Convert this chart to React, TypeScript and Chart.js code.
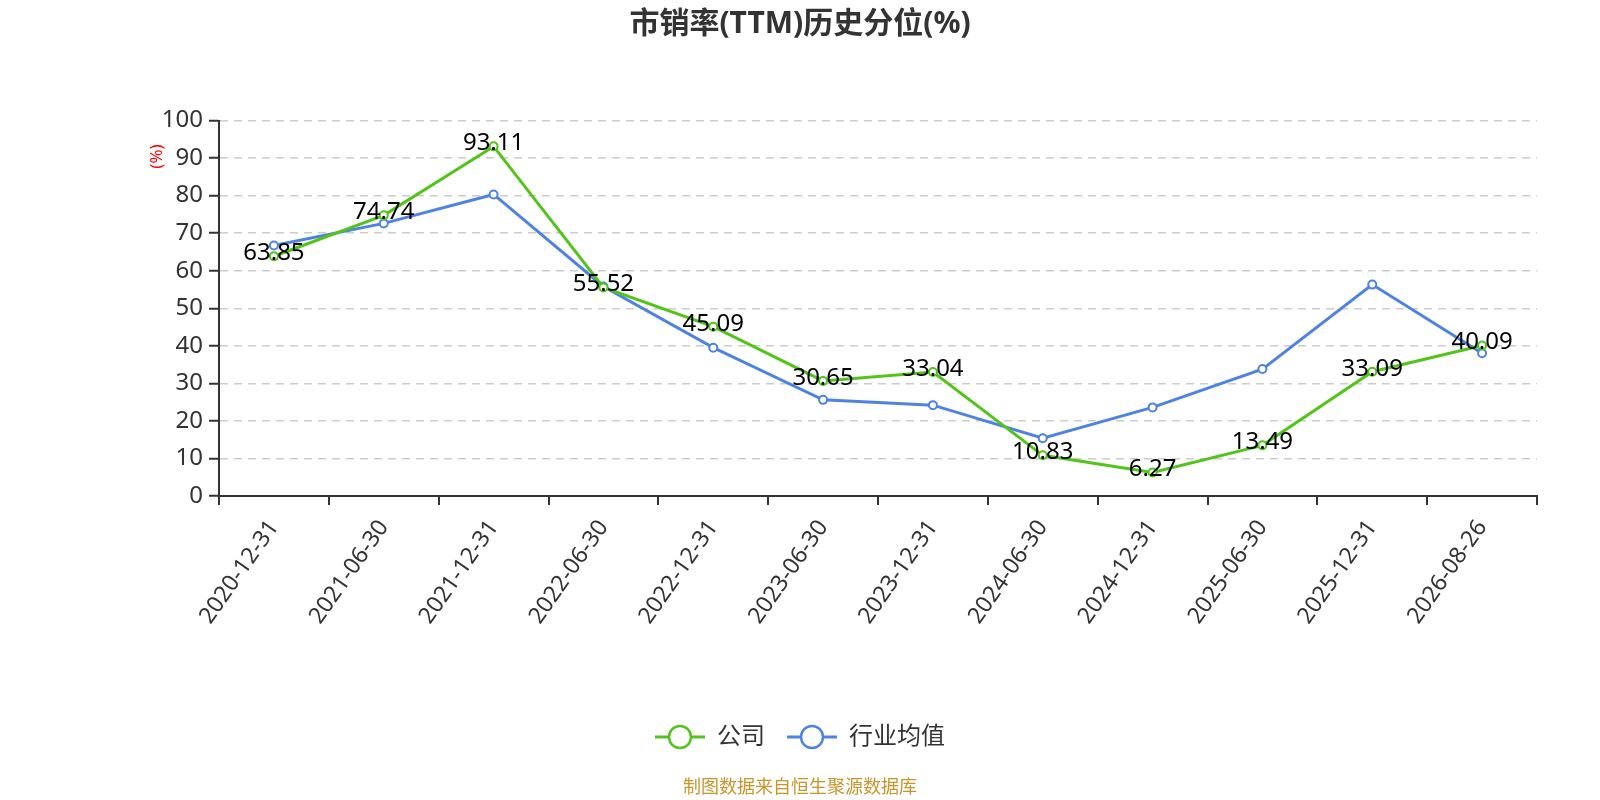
import { useEffect, useRef } from 'react';
import Chart from 'chart.js/auto';

const dates = [
  '2020-12-31', '2021-06-30', '2021-12-31', '2022-06-30', '2022-12-31', '2023-06-30',
  '2023-12-31', '2024-06-30', '2024-12-31', '2025-06-30', '2025-12-31', '2026-08-26',
];
const companyValues = [63.85, 74.74, 93.11, 55.52, 45.09, 30.65, 33.04, 10.83, 6.27, 13.49, 33.09, 40.09];
const industryValues = [66.7, 72.6, 80.3, 55.8, 39.5, 25.6, 24.2, 15.4, 23.6, 33.8, 56.3, 38.0];
const seriesNames = ['公司', '行业均值'];
const yMin = 0;
const yMax = 100;
const yStep = 10;

const GREEN = '#52c41a';
const BLUE = '#4e83e3';
const FONT = '"Noto Sans", "Noto Sans CJK SC", sans-serif';

function legendIcon(color: string) {
  const c = document.createElement('canvas');
  c.width = 50;
  c.height = 26;
  const g = c.getContext('2d')!;
  g.strokeStyle = color;
  g.lineWidth = 3;
  g.beginPath();
  g.moveTo(0, 13);
  g.lineTo(50, 13);
  g.stroke();
  g.beginPath();
  g.arc(25, 13, 11, 0, Math.PI * 2);
  g.fillStyle = '#fff';
  g.fill();
  g.lineWidth = 2.5;
  g.stroke();
  return c;
}

// numbers on the company line
const valueLabels = {
  id: 'valueLabels',
  afterDatasetsDraw(chart: any) {
    const { ctx } = chart;
    const meta = chart.getDatasetMeta(0);
    ctx.save();
    ctx.font = `24px ${FONT}`;
    ctx.fillStyle = '#000';
    ctx.textAlign = 'center';
    ctx.textBaseline = 'middle';
    meta.data.forEach((pt: any, i: number) => {
      ctx.fillText(companyValues[i].toFixed(2), pt.x, pt.y - 3);
    });
    ctx.restore();
  },
};

// red "(%)" unit near the top of the y axis
const unitLabel = {
  id: 'unitLabel',
  afterDraw(chart: any) {
    const { ctx, chartArea } = chart;
    ctx.save();
    ctx.translate(chartArea.left - 62, chartArea.top + 36);
    ctx.rotate(-Math.PI / 2);
    ctx.font = `17px ${FONT}`;
    ctx.fillStyle = '#ff0000';
    ctx.textAlign = 'center';
    ctx.textBaseline = 'middle';
    ctx.fillText('(%)', 0, 0);
    ctx.restore();
  },
};

export default function App() {
  const canvasRef = useRef<HTMLCanvasElement>(null);

  useEffect(() => {
    const canvas = canvasRef.current;
    if (!canvas) return;
    Chart.defaults.font.family = FONT;
    const icons = [legendIcon(GREEN), legendIcon(BLUE)];

    const chart = new Chart(canvas, {
      type: 'line',
      data: {
        labels: dates,
        datasets: [
          {
            label: seriesNames[0],
            data: companyValues,
            borderColor: GREEN,
            backgroundColor: '#fff',
            borderWidth: 3,
            pointRadius: 4,
            pointBorderWidth: 2,
            pointBackgroundColor: '#fff',
            pointBorderColor: GREEN,
          },
          {
            label: seriesNames[1],
            data: industryValues,
            borderColor: BLUE,
            backgroundColor: '#fff',
            borderWidth: 3,
            pointRadius: 4,
            pointBorderWidth: 2,
            pointBackgroundColor: '#fff',
            pointBorderColor: BLUE,
          },
        ],
      },
      options: {
        animation: false,
        responsive: true,
        maintainAspectRatio: false,
        scales: {
          x: {
            offset: true,
            grid: { offset: true, drawOnChartArea: false, drawTicks: true, tickLength: 9, color: '#333', lineWidth: 2 },
            border: { color: '#333', width: 2 },
            ticks: { color: '#333', font: { size: 23 }, minRotation: 55, maxRotation: 55, padding: 10, autoSkip: false },
            afterFit: (scale: any) => { scale.height = 207; },
          },
          y: {
            min: yMin,
            max: yMax,
            ticks: { stepSize: yStep, color: '#333', font: { size: 24 }, padding: 6 },
            grid: { color: '#cccccc', lineWidth: 1.5, tickColor: '#333', tickLength: 10, tickWidth: 2 },
            border: { color: '#333', width: 2, dash: [8, 6] },
            afterFit: (scale: any) => { scale.width = 219; },
          },
          // empty right-hand strip so the plot ends where the reference does
          y2: {
            position: 'right',
            grid: { display: false, drawTicks: false },
            border: { display: false },
            ticks: { display: false },
            afterFit: (scale: any) => { scale.width = 63; },
          },
        },
        plugins: {
          title: {
            display: true,
            text: '市销率(TTM)历史分位(%)',
            color: '#333',
            font: { size: 30, weight: 'bold' },
            padding: { top: 6, bottom: 78.5 },
          },
          subtitle: {
            display: true,
            position: 'bottom',
            text: '制图数据来自恒生聚源数据库',
            color: '#c9952b',
            font: { size: 18 },
            padding: { top: 18.2, bottom: 1.2 },
          },
          legend: {
            position: 'bottom',
            labels: {
              color: '#333',
              font: { size: 24 },
              padding: 22,
              usePointStyle: true,
              pointStyleWidth: 50,
              generateLabels: (c: any) =>
                Chart.defaults.plugins.legend.labels.generateLabels(c).map((item: any, i: number) => ({
                  ...item,
                  pointStyle: icons[i],
                })),
            },
          },
          tooltip: { enabled: false },
        },
      },
      plugins: [valueLabels, unitLabel],
    });

    return () => {
      chart.destroy();
    };
  }, []);

  return (
    <div style={{ position: 'absolute', left: 0, top: 0, width: 1600, height: 800 }}>
      <canvas ref={canvasRef} />
    </div>
  );
}
